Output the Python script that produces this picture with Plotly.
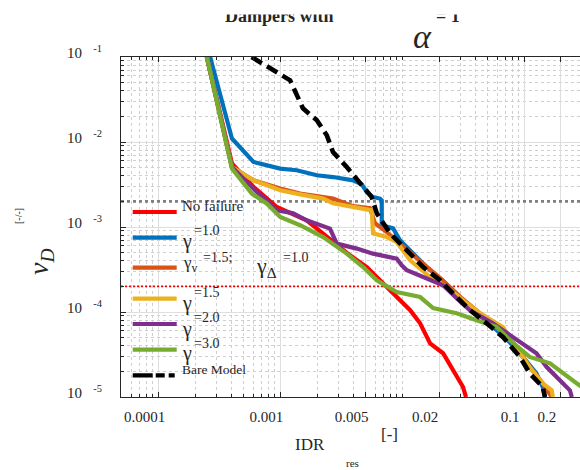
import numpy as np
import plotly.graph_objects as go

# Residual inter-storey drift IDR_res [-] vs. mean annual rate nu_D [-]
idr_no_failure = [2.49e-4, 4.0e-4, 6.01e-4, 9.33e-4, 1.64e-3, 2.55e-3, 3.72e-3, 5.11e-3, 6.56e-3,
                  8.99e-3, 1.16e-2, 1.40e-2, 1.69e-2, 2.16e-2, 2.61e-2, 3.15e-2, 3.33e-2]
nu_no_failure = [0.1, 5.61e-3, 2.96e-3, 1.72e-3, 1.20e-3, 7.31e-4, 4.65e-4, 3.38e-4, 2.36e-4,
                 1.50e-4, 1.05e-4, 7.36e-5, 4.28e-5, 3.27e-5, 2.06e-5, 1.31e-5, 1.0e-5]

idr_g10 = [2.65e-4, 4.0e-4, 6.01e-4, 9.96e-4, 1.36e-3, 1.99e-3, 2.70e-3, 3.94e-3, 4.65e-3, 5.11e-3,
           5.75e-3, 6.56e-3, 6.78e-3, 6.78e-3, 8.39e-3, 9.57e-3, 1.22e-2, 1.58e-2, 2.1e-2, 2.8e-2,
           3.7e-2, 5.5e-2, 7.6e-2, 9.75e-2, 0.126, 0.142, 0.148]
nu_g10 = [0.1, 1.10e-2, 5.82e-3, 4.86e-3, 4.65e-3, 4.06e-3, 3.87e-3, 3.54e-3, 3.18e-3, 2.58e-3,
          2.25e-3, 2.16e-3, 2.06e-3, 1.05e-3, 9.66e-4, 6.98e-4, 4.91e-4, 3.38e-4, 2.4e-4, 1.6e-4,
          1.1e-4, 6.8e-5, 4.4e-5, 2.96e-5, 1.90e-5, 1.31e-5, 1.0e-5]

idr_gv15 = [2.49e-4, 4.0e-4, 6.01e-4, 9.96e-4, 1.45e-3, 2.24e-3, 2.70e-3, 3.94e-3, 5.43e-3, 5.97e-3,
            7.45e-3, 1.0e-2, 1.4e-2, 2.04e-2, 3.0e-2, 4.34e-2, 6.68e-2, 8.67e-2, 0.111, 0.142, 0.168]
nu_gv15 = [0.1, 5.08e-3, 3.54e-3, 2.83e-3, 2.47e-3, 2.25e-3, 2.16e-3, 1.76e-3, 1.66e-3, 1.11e-3,
           8.73e-4, 6.0e-4, 4.0e-4, 2.5e-4, 1.5e-4, 9.66e-5, 6.2e-5, 3.87e-5, 2.25e-5, 1.45e-5, 1.0e-5]

idr_g15 = [2.49e-4, 4.0e-4, 6.01e-4, 9.96e-4, 1.45e-3, 2.24e-3, 2.70e-3, 3.94e-3, 5.61e-3, 5.75e-3,
           7.45e-3, 8.99e-3, 1.16e-2, 1.69e-2, 2.31e-2, 3.15e-2, 4.34e-2, 6.68e-2, 8.67e-2, 0.111,
           0.142, 0.168, 0.172]
nu_g15 = [0.1, 5.08e-3, 3.54e-3, 2.70e-3, 2.42e-3, 2.16e-3, 1.90e-3, 1.72e-3, 1.57e-3, 8.43e-4,
          7.62e-4, 6.67e-4, 4.06e-4, 2.58e-4, 1.97e-4, 1.37e-4, 9.66e-5, 6.67e-5, 3.87e-5, 2.25e-5,
          1.45e-5, 1.2e-5, 1.0e-5]

idr_g20 = [2.49e-4, 4.0e-4, 6.41e-4, 9.33e-4, 1.27e-3, 1.64e-3, 2.55e-3, 2.90e-3, 4.23e-3, 5.75e-3,
           8.99e-3, 9.89e-3, 1.09e-2, 1.69e-2, 2.16e-2, 2.79e-2, 3.59e-2, 5.53e-2, 8.67e-2, 0.126,
           0.153, 0.207, 0.237, 0.246]
nu_g20 = [0.1, 5.08e-3, 2.58e-3, 1.57e-3, 1.45e-3, 1.20e-3, 9.57e-4, 6.38e-4, 5.57e-4, 4.86e-4,
          4.25e-4, 3.54e-4, 3.10e-4, 2.36e-4, 2.06e-4, 1.45e-4, 1.05e-4, 7.36e-5, 4.65e-5, 3.27e-5,
          2.25e-5, 1.45e-5, 1.2e-5, 1.0e-5]

idr_g30 = [2.49e-4, 4.0e-4, 5.83e-4, 7.75e-4, 9.96e-4, 1.45e-3, 2.24e-3, 2.55e-3, 3.50e-3, 4.77e-3,
           6.17e-3, 8.99e-3, 1.40e-2, 1.79e-2, 2.79e-2, 4.07e-2, 5.94e-2, 7.64e-2, 0.111, 0.163,
           0.207, 0.269, 0.30]
nu_g30 = [0.1, 4.86e-3, 2.47e-3, 1.88e-3, 1.31e-3, 1.05e-3, 7.62e-4, 6.67e-4, 4.86e-4, 3.38e-4,
          2.36e-4, 1.72e-4, 1.50e-4, 1.11e-4, 9.66e-5, 7.98e-5, 6.67e-5, 4.65e-5, 2.96e-5, 2.49e-5,
          1.90e-5, 1.45e-5, 1.3e-5]

idr_bare = [5.8e-4, 9.33e-4, 1.20e-3, 1.53e-3, 1.99e-3, 2.40e-3, 2.70e-3, 3.50e-3, 4.50e-3, 5.61e-3,
            6.17e-3, 7.93e-3, 1.09e-2, 1.48e-2, 2.04e-2, 2.61e-2, 3.59e-2, 4.92e-2, 6.68e-2, 9.23e-2,
            0.111, 0.142, 0.148]
nu_bare = [0.1, 6.67e-2, 5.32e-2, 2.49e-2, 1.80e-2, 1.20e-2, 7.62e-3, 5.08e-3, 3.27e-3, 2.25e-3,
           1.45e-3, 8.43e-4, 5.32e-4, 3.38e-4, 2.36e-4, 1.66e-4, 1.05e-4, 7.36e-5, 5.08e-5, 2.96e-5,
           1.90e-5, 1.31e-5, 1.0e-5]

# Reference rate levels
nu_levels = [2e-3, 2e-4]

# Axis limits and tick labels
x_limits = [4.92e-5, 0.287]
y_limits = [1e-5, 1e-1]
x_tickvals = [1e-4, 1e-3, 5e-3, 2e-2, 1e-1, 2e-1]
x_ticktext = ["0.0001", "0.001", "0.005", "0.02", "0.1", "0.2"]
y_tickvals = [1e-5, 1e-4, 1e-3, 1e-2, 1e-1]
y_exponents = ["-5", "-4", "-3", "-2", "-1"]

legend_labels = ["No failure", "=1.0", "=1.5;", "=1.5", "=2.0", "=3.0", "Bare Model"]

RED, BLUE, ORANGE, YELLOW, PURPLE, GREEN, BLACK = (
    "#FF0000", "#0072BD", "#D95319", "#EDB120", "#7E2F8E", "#77AC30", "#000000")

SERIF = "Liberation Serif, Times New Roman, serif"
INK = "#262626"
NBSP = "\u00a0"

W, H = 580, 470
ML, MR, MT, MB = 121, 0, 57, 73


def paper(px, py):
    """Canvas pixel position -> paper coordinates of the plot area."""
    return (px - ML) / (W - ML - MR), (H - MB - py) / (H - MT - MB)


def minor_vals(lo_exp, hi_exp, skip):
    vals = []
    for e in range(lo_exp, hi_exp + 1):
        for k in range(1, 10):
            v = k * 10.0 ** e
            if not any(abs(v - s) / s < 1e-9 for s in skip):
                vals.append(v)
    return vals


fig = go.Figure()

lw = 4.2
series = [
    (idr_no_failure, nu_no_failure, RED),
    (idr_g10, nu_g10, BLUE),
    (idr_gv15, nu_gv15, ORANGE),
    (idr_g15, nu_g15, YELLOW),
    (idr_g20, nu_g20, PURPLE),
    (idr_g30, nu_g30, GREEN),
]

# reference levels first, below the curves
fig.add_trace(go.Scatter(x=x_limits, y=[nu_levels[0]] * 2, mode="lines",
                         line=dict(color="#7f7f7f", width=2.6, dash="3px,3px"),
                         showlegend=False, hoverinfo="skip"))
fig.add_trace(go.Scatter(x=x_limits, y=[nu_levels[1]] * 2, mode="lines",
                         line=dict(color=RED, width=1.6, dash="2px,2px"),
                         showlegend=False, hoverinfo="skip"))

for xs, ys, col in series:
    fig.add_trace(go.Scatter(x=xs, y=ys, mode="lines", line=dict(color=col, width=lw),
                             showlegend=False))
fig.add_trace(go.Scatter(x=idr_bare, y=nu_bare, mode="lines",
                         line=dict(color=BLACK, width=lw + 0.4, dash="12px,6px"),
                         showlegend=False))

# hand-placed legend keys
legend_cols = [RED, BLUE, ORANGE, YELLOW, PURPLE, GREEN, BLACK]
legend_rows = [212, 237.7, 267.7, 298.7, 324, 349.7, 375.3]
shapes = []
for col, row in zip(legend_cols, legend_rows):
    x0, y0 = paper(132.7, row)
    x1, _ = paper(176.7, row)
    dash = "20px,3px,9px,4px,6px,30px" if col == BLACK else "solid"
    shapes.append(dict(type="line", xref="paper", yref="paper", x0=x0, x1=x1, y0=y0, y1=y0,
                       line=dict(color=col, width=4.2, dash=dash), layer="above"))

annotations = []


def text_at(px, py, txt, size, xanchor="left", yanchor="middle", angle=0, color=INK, **kw):
    x, y = paper(px, py)
    annotations.append(dict(x=x, y=y, xref="paper", yref="paper", text=txt, showarrow=False,
                            xanchor=xanchor, yanchor=yanchor, textangle=angle,
                            font=dict(family=SERIF, size=size, color=color), **kw))


# legend texts
text_at(180, 206, legend_labels[0], 15)
for row_gamma, row_sup, lab in [(241.5, 230.5, legend_labels[1]), (303.5, 292.5, legend_labels[3]),
                                (329, 317.5, legend_labels[4]), (353.5, 343.5, legend_labels[5])]:
    text_at(180, row_gamma, "γ", 20)
    text_at(191.5, row_sup, lab, 14)
text_at(180.5, 264, "γ<sub>v</sub>", 17)
text_at(201, 257.5, legend_labels[2], 14)
text_at(254, 266.5, "γ<sub>Δ</sub>", 22)
text_at(281, 257.5, "=1.0", 14)
text_at(180, 369, legend_labels[6], 13.5)

# title pieces (upper part hidden under a blank band)
text_at(279.5, 16.5, "<b>Dampers with</b>", 18, xanchor="center")
text_at(448, 16.5, "<b>= 1</b>", 18, xanchor="center")
text_at(200, 6.25, " ", 10, xanchor="left", bgcolor="white", width=290, height=12.5)
text_at(422, 36, "<i>α</i>", 34, xanchor="center")

# axis titles
text_at(40, 262, "<i>ν<sub>D</sub></i>", 28, xanchor="center", angle=-90)
text_at(18, 216, "[-/-]", 10, xanchor="center", angle=-90)
text_at(309.5, 444, "IDR", 17, xanchor="center")
text_at(352, 463, "res", 11, xanchor="center")
text_at(389.5, 434, "[-]", 17, xanchor="center")

fig.update_layout(
    width=W, height=H,
    margin=dict(l=ML, r=MR, t=MT, b=MB, pad=0),
    paper_bgcolor="white", plot_bgcolor="white",
    showlegend=False,
    shapes=shapes, annotations=annotations,
    font=dict(family=SERIF, color=INK),
)

fig.update_xaxes(
    type="log", range=list(np.log10(x_limits)),
    tickmode="array", tickvals=x_tickvals, ticktext=x_ticktext,
    ticks="inside", ticklen=5, tickcolor=INK, tickwidth=1,
    showline=True, linecolor=INK, linewidth=1, mirror="ticks",
    showgrid=True, gridcolor="#dedede", gridwidth=1, zeroline=False,
    tickfont=dict(family=SERIF, size=15, color=INK),
    ticklabelshift=-14, ticklabelstandoff=6,
    minor=dict(tickmode="array", tickvals=minor_vals(-5, -1, x_tickvals), ticks="inside",
               ticklen=3, tickcolor=INK, showgrid=True, gridcolor="#cfcfcf", griddash="dot",
               gridwidth=1),
)
fig.update_yaxes(
    type="log", range=list(np.log10(y_limits)),
    tickmode="array", tickvals=y_tickvals,
    ticktext=["10" + NBSP * 3 + "<sup>" + e + "</sup>" for e in y_exponents],
    ticks="inside", ticklen=5, tickcolor=INK, tickwidth=1,
    showline=True, linecolor=INK, linewidth=1, mirror=False,
    showgrid=True, gridcolor="#dedede", gridwidth=1, zeroline=False,
    tickfont=dict(family=SERIF, size=15, color=INK),
    ticklabelstandoff=15, ticklabelshift=-4,
    minor=dict(tickmode="array", tickvals=minor_vals(-6, -1, y_tickvals), ticks="inside",
               ticklen=3, tickcolor=INK, showgrid=True, gridcolor="#cfcfcf", griddash="dot",
               gridwidth=1),
)

fig.write_html("out.html")
